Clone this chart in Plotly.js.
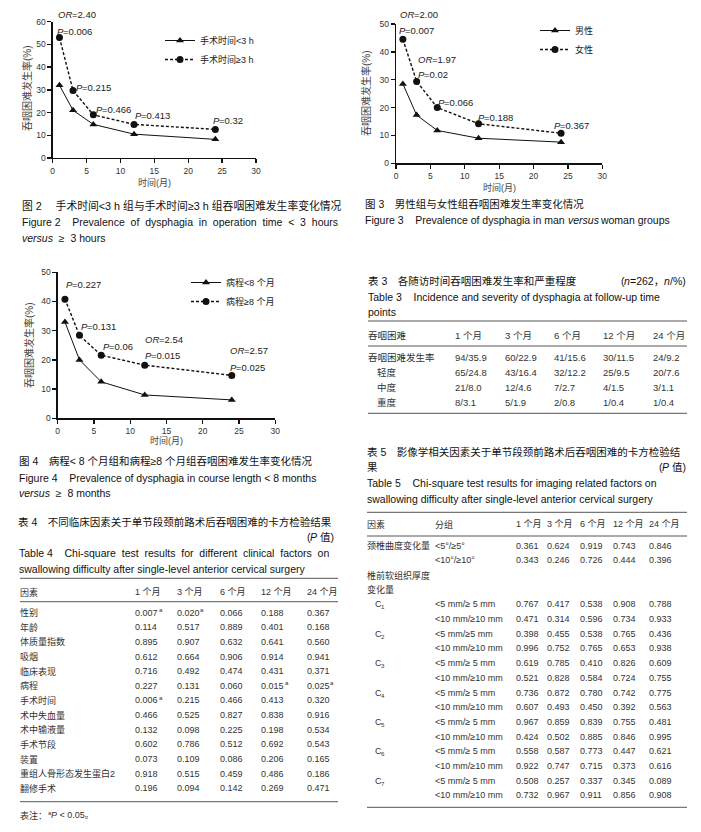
<!DOCTYPE html>
<html>
<head>
<meta charset="utf-8">
<script src="https://cdn.plot.ly/plotly-3.0.1.min.js"></script>
<style>
html,body{margin:0;padding:0;background:#fff;}
#chart{width:701px;height:832px;}
</style>
</head>
<body>
<div id="chart"></div>
<script>
// ---------------- DATA ----------------
const months = [1, 3, 6, 12, 24];
const opTimeShort = [32, 21, 14.8, 10.5, 8.2];     // 手术时间<3 h
const opTimeLong  = [53, 29.7, 19, 14.8, 12.6];    // 手术时间≥3 h
const male   = [28.5, 17.3, 11.8, 9.0, 7.6];       // 男性
const female = [44.5, 29.4, 20.0, 14.2, 10.8];    // 女性
const courseShort = [33, 20, 12.5, 8.0, 6.3];     // 病程<8 个月
const courseLong  = [40.8, 28.4, 21.6, 18.2, 14.7]; // 病程≥8 个月

const fig2Names = ['手术时间<3 h', '手术时间≥3 h'];
const fig3Names = ['男性', '女性'];
const fig4Names = ['病程<8 个月', '病程≥8 个月'];

// [italic word, value]
const fig2Labels = [['OR', '=2.40'], ['P', '=0.006'], ['P', '=0.215'], ['P', '=0.466'], ['P', '=0.413'], ['P', '=0.32']];
const fig3Labels = [['OR', '=2.00'], ['P', '=0.007'], ['OR', '=1.97'], ['P', '=0.02'], ['P', '=0.066'], ['P', '=0.188'], ['P', '=0.367']];
const fig4Labels = [['P', '=0.227'], ['P', '=0.131'], ['P', '=0.06'], ['OR', '=2.54'], ['P', '=0.015'], ['OR', '=2.57'], ['P', '=0.025']];

// Table 3
const t3Header = ['吞咽困难', '1 个月', '3 个月', '6 个月', '12 个月', '24 个月'];
const t3Rows = ['吞咽困难发生率', '轻度', '中度', '重度'];
const t3Values = [
  ['94/35.9', '60/22.9', '41/15.6', '30/11.5', '24/9.2'],
  ['65/24.8', '43/16.4', '32/12.2', '25/9.5', '20/7.6'],
  ['21/8.0', '12/4.6', '7/2.7', '4/1.5', '3/1.1'],
  ['8/3.1', '5/1.9', '2/0.8', '1/0.4', '1/0.4']
];

// Table 4
const t4Header = ['因素', '1 个月', '3 个月', '6 个月', '12 个月', '24 个月'];
const t4Factors = ['性别', '年龄', '体质量指数', '吸烟', '临床表现', '病程', '手术时间', '术中失血量', '术中输液量', '手术节段', '装置', '重组人骨形态发生蛋白2', '翻修手术'];
const t4P = [
  [0.007, 0.020, 0.066, 0.188, 0.367],
  [0.114, 0.517, 0.889, 0.401, 0.168],
  [0.895, 0.907, 0.632, 0.641, 0.560],
  [0.612, 0.664, 0.906, 0.914, 0.941],
  [0.716, 0.492, 0.474, 0.431, 0.371],
  [0.227, 0.131, 0.060, 0.015, 0.025],
  [0.006, 0.215, 0.466, 0.413, 0.320],
  [0.466, 0.525, 0.827, 0.838, 0.916],
  [0.132, 0.098, 0.225, 0.198, 0.534],
  [0.602, 0.786, 0.512, 0.692, 0.543],
  [0.073, 0.109, 0.086, 0.206, 0.165],
  [0.918, 0.515, 0.459, 0.486, 0.186],
  [0.196, 0.094, 0.142, 0.269, 0.471]
];

// Table 5
const t5Header = ['因素', '分组', '1 个月', '3 个月', '6 个月', '12 个月', '24 个月'];
const t5Factors = ['颈椎曲度变化量', '', '椎前软组织厚度', '变化量', 'C1', '', 'C2', '', 'C3', '', 'C4', '', 'C5', '', 'C6', '', 'C7', ''];
const t5Groups = ['<5°/≥5°', '<10°/≥10°', '', '',
  '<5 mm/≥ 5 mm', '<10 mm/≥10 mm', '<5 mm/≥5 mm', '<10 mm/≥10 mm',
  '<5 mm/≥ 5 mm', '<10 mm/≥10 mm', '<5 mm/≥ 5 mm', '<10 mm/≥10 mm',
  '<5 mm/≥ 5 mm', '<10 mm/≥10 mm', '<5 mm/≥ 5 mm', '<10 mm/≥10 mm',
  '<5 mm/≥ 5 mm', '<10 mm/≥10 mm'];
const t5P = [
  [0.361, 0.624, 0.919, 0.743, 0.846],
  [0.343, 0.246, 0.726, 0.444, 0.396],
  null, null,
  [0.767, 0.417, 0.538, 0.908, 0.788],
  [0.471, 0.314, 0.596, 0.734, 0.933],
  [0.398, 0.455, 0.538, 0.765, 0.436],
  [0.996, 0.752, 0.765, 0.653, 0.938],
  [0.619, 0.785, 0.410, 0.826, 0.609],
  [0.521, 0.828, 0.584, 0.724, 0.755],
  [0.736, 0.872, 0.780, 0.742, 0.775],
  [0.607, 0.493, 0.450, 0.392, 0.563],
  [0.967, 0.859, 0.839, 0.755, 0.481],
  [0.424, 0.502, 0.885, 0.846, 0.995],
  [0.558, 0.587, 0.773, 0.447, 0.621],
  [0.922, 0.747, 0.715, 0.373, 0.616],
  [0.508, 0.257, 0.337, 0.345, 0.089],
  [0.732, 0.967, 0.911, 0.856, 0.908]
];

// ---------------- LAYOUT HELPERS ----------------
const W = 701, H = 832;
const PX = x => x / W;
const PY = y => 1 - y / H;
const FONT = '"Liberation Sans", Arial, "Noto Sans CJK SC", sans-serif';
const NB = '\u00a0';
const annotations = [];
const shapes = [];
const cv = document.createElement('canvas').getContext('2d');

function measure(t, size, italic) {
  cv.font = (italic ? 'italic ' : '') + size + 'px ' + FONT;
  return cv.measureText(t).width;
}

function txt(text, x, y, opt) {
  opt = opt || {};
  annotations.push({
    text: text, xref: 'paper', yref: 'paper', x: PX(x), y: PY(y),
    xanchor: opt.anchor || 'left', yanchor: 'middle', showarrow: false,
    borderpad: 0, borderwidth: 0, textangle: opt.angle || 0,
    font: {family: FONT, size: opt.size || 9, color: opt.color || '#333',
           style: opt.italic ? 'italic' : 'normal'}
  });
}
// parts: [[text, italic, 'sup'|'sub'|undefined], ...] laid out one after another
function rich(parts, x, y, opt) {
  opt = opt || {};
  const size = opt.size || 9;
  const sizes = parts.map(p => p[2] ? size * 0.68 : size);
  const ws = parts.map((p, i) => measure(p[0], sizes[i], p[1]) + (p[2] === 'sup' ? 1 : 0));
  const total = ws.reduce((a, b) => a + b, 0);
  let cx = opt.anchor === 'right' ? x - total : x;
  parts.forEach((p, i) => {
    const dy = p[2] === 'sup' ? -size * 0.33 : (p[2] === 'sub' ? size * 0.28 : 0);
    txt(p[0], cx + (p[2] === 'sup' ? 1 : 0), y + dy, {size: sizes[i], color: opt.color, italic: p[1]});
    cx += ws[i];
  });
}
function hline(x0, x1, y, w) {
  shapes.push({type: 'line', xref: 'paper', yref: 'paper', x0: PX(x0), x1: PX(x1), y0: PY(y), y1: PY(y),
    line: {color: '#555', width: w || 1}});
}

// ---------------- CHARTS ----------------
const charts = [
  {ax: '', names: fig2Names, a: opTimeShort, b: opTimeLong, legend: 'legend',
   box: [52.7, 256, 158, 21.7], yr: 60,
   labels: fig2Labels, labelPos: [[58, 14], [57, 31], [76, 87], [96, 109], [135, 115], [213, 121]],
   ytitle: [27, 88], xtitle: [154, 182]},
  {ax: '2', names: fig3Names, a: male, b: female, legend: 'legend2',
   box: [396, 602.3, 163.3, 24], yr: 50,
   labels: fig3Labels, labelPos: [[400, 14.7], [399, 30.7], [418, 59], [418, 74.7], [438, 102], [478, 117], [554, 125.7]],
   ytitle: [366, 93], xtitle: [499, 188]},
  {ax: '3', names: fig4Names, a: courseShort, b: courseLong, legend: 'legend3',
   box: [57.7, 275.3, 418.3, 272.3], yr: 50,
   labels: fig4Labels, labelPos: [[66, 285], [80.7, 326.7], [103, 346.7], [145, 339], [145, 355], [230, 350.7], [230, 367.3]],
   ytitle: [29, 345], xtitle: [166, 440]}
];

const traces = [];
const layout = {
  width: W, height: H, margin: {l: 0, r: 0, t: 0, b: 0},
  paper_bgcolor: '#fff', plot_bgcolor: 'rgba(0,0,0,0)',
  font: {family: FONT, size: 9, color: '#333'},
  annotations: annotations, shapes: shapes
};

charts.forEach(c => {
  const xa = 'x' + c.ax, ya = 'y' + c.ax;
  traces.push({
    x: months, y: c.a, name: c.names[0], type: 'scatter', mode: 'lines+markers',
    xaxis: xa, yaxis: ya, legend: c.legend, cliponaxis: false,
    line: {color: '#111', width: 1},
    marker: {symbol: 'triangle-up', size: 7, color: '#111'}
  });
  traces.push({
    x: months, y: c.b, name: c.names[1], type: 'scatter', mode: 'lines+markers',
    xaxis: xa, yaxis: ya, legend: c.legend, cliponaxis: false,
    line: {color: '#111', width: 1.4, dash: '3px,2px'},
    marker: {symbol: 'circle', size: 7, color: '#111'}
  });
  const axCommon = {
    showline: true, linecolor: '#111', linewidth: 1.3, ticks: 'outside', ticklen: 4,
    tickwidth: 1.3, tickcolor: '#111', showgrid: false, zeroline: false, fixedrange: true,
    tickfont: {family: FONT, size: 8.5, color: '#333'}
  };
  layout['xaxis' + c.ax] = Object.assign({}, axCommon, {
    domain: [PX(c.box[0]), PX(c.box[1])], range: [0, 30], dtick: 5, tick0: 0,
    anchor: ya
  });
  layout['yaxis' + c.ax] = Object.assign({}, axCommon, {
    domain: [PY(c.box[2]), PY(c.box[3])], range: [0, c.yr], dtick: 10, tick0: 0,
    anchor: xa
  });
  c.labels.forEach((t, i) => rich([[t[0], true], [t[1], false]], c.labelPos[i][0], c.labelPos[i][1], {size: 9.5, color: '#222'}));
  txt('吞咽困难发生率(%)', c.ytitle[0], c.ytitle[1], {anchor: 'center', angle: -90, size: 10, color: '#444'});
  txt('时间(月)', c.xtitle[0], c.xtitle[1], {anchor: 'center', size: 9, color: '#444'});
});

const legendCommon = {xanchor: 'left', yanchor: 'top', bgcolor: 'rgba(0,0,0,0)',
  font: {family: FONT, size: 9, color: '#222'}, tracegroupgap: 0};
layout.legend = Object.assign({}, legendCommon, {x: PX(160), y: PY(26)});
layout.legend2 = Object.assign({}, legendCommon, {x: PX(535), y: PY(16)});
layout.legend3 = Object.assign({}, legendCommon, {x: PX(186), y: PY(268)});

// ---------------- CAPTIONS ----------------
const CAP = {size: 10.5, color: '#111'};
const capR = Object.assign({anchor: 'right'}, CAP);
txt('图 2\u3000' + NB + '手术时间<3 h 组与手术时间≥3 h 组吞咽困难发生率变化情况', 22, 205, {size: 10.8, color: '#111'});
txt('Figure 2' + NB + NB + NB + NB + 'Prevalence' + NB + NB + 'of' + NB + NB + 'dysphagia' + NB + NB + 'in' + NB + NB + 'operation' + NB + NB + 'time' + NB + NB + '<' + NB + NB + '3' + NB + NB + 'hours', 22, 222.5, CAP);
rich([['versus', true], [NB + NB + '≥' + NB + NB + '3 hours', false]], 22, 237.5, CAP);
txt('图 3\u3000男性组与女性组吞咽困难发生率变化情况', 365, 204, CAP);
rich([['Figure 3' + NB + NB + NB + NB + 'Prevalence of dysphagia in man' + NB, false], ['versus', true], [NB + 'woman groups', false]], 365, 220, CAP);
txt('图 4\u3000病程< 8 个月组和病程≥8 个月组吞咽困难发生率变化情况', 19, 460.7, CAP);
txt('Figure 4' + NB + NB + NB + NB + 'Prevalence of dysphagia in course length < 8 months', 19, 477.7, CAP);
rich([['versus', true], [NB + NB + '≥' + NB + NB + '8 months', false]], 19, 492.7, CAP);

// ---------------- TABLE 3 ----------------
txt('表 3\u3000各随访时间吞咽困难发生率和严重程度', 368, 280.7, CAP);
rich([['(', false], ['n', true], ['=262，', false], ['n', true], ['/%)', false]], 686, 280.7, capR);
txt('Table 3' + NB + NB + NB + NB + 'Incidence and severity of dysphagia at follow-up time', 368, 296.7, CAP);
txt('points', 368, 311.7, CAP);
hline(368, 687, 321);
hline(368, 687, 346);
hline(368, 687, 413.3);
const t3X = [368, 455, 505, 554, 603, 652.7];
t3Header.forEach((h, j) => txt(h, t3X[j], 335.3, {size: 9.5}));
t3Rows.forEach((r, i) => {
  const y = 357.7 + i * 14.8;
  txt(r, i === 0 ? t3X[0] : 377, y, {size: 9.5});
  t3Values[i].forEach((v, j) => txt(v, t3X[j + 1], y, {size: 9.5}));
});

// ---------------- TABLE 4 ----------------
txt('表 4\u3000不同临床因素关于单节段颈前路术后吞咽困难的卡方检验结果', 18, 521.7, CAP);
rich([['(', false], ['P', true], [NB + '值)', false]], 334, 536.7, capR);
txt('Table 4' + NB + NB + NB + NB + 'Chi-square' + NB + NB + 'test' + NB + NB + 'results' + NB + NB + 'for' + NB + NB + 'different' + NB + NB + 'clinical' + NB + NB + 'factors' + NB + NB + 'on', 19, 553.3, CAP);
txt('swallowing difficulty after single-level anterior cervical surgery', 19, 569, CAP);
hline(20, 338, 578.3);
hline(20, 338, 601.7);
hline(20, 338, 801.7);
const t4X = [20, 135, 176.7, 220, 261, 306.7];
t4Header.forEach((h, j) => txt(h, t4X[j], 592.3));
t4Factors.forEach((f, i) => {
  const y = 612.7 + i * 14.63;
  txt(f, t4X[0], y);
  t4P[i].forEach((v, j) => {
    const parts = [[v.toFixed(3), false]];
    if (v < 0.05) parts.push(['a', false, 'sup']);
    rich(parts, t4X[j + 1], y, {size: 9});
  });
});
rich([['表注：', false], ['a', false, 'sup'], ['P', true], [NB + '< 0.05。', false]], 20, 815, {size: 9});

// ---------------- TABLE 5 ----------------
txt('表 5\u3000影像学相关因素关于单节段颈前路术后吞咽困难的卡方检验结', 367, 452.3, CAP);
txt('果', 367, 466.7, CAP);
rich([['(', false], ['P', true], [NB + '值)', false]], 686, 466.7, capR);
txt('Table 5' + NB + NB + NB + NB + 'Chi-square test results for imaging related factors on', 367, 483.3, CAP);
txt('swallowing difficulty after single-level anterior cervical surgery', 367, 499, CAP);
hline(367, 687, 512.3);
hline(367, 687, 536);
hline(367, 687, 807.3);
const t5X = [367, 435, 515.7, 546.7, 580, 613.3, 649];
t5Header.forEach((h, j) => txt(h, t5X[j], 524));
t5Factors.forEach((f, i) => {
  const y = 545.7 + i * 14.68;
  if (/^C\d$/.test(f)) rich([['C', false], [f.slice(1), false, 'sub']], 375, y, {size: 9});
  else if (f) txt(f, t5X[0], y);
  if (t5Groups[i]) txt(t5Groups[i], t5X[1], y);
  if (t5P[i]) t5P[i].forEach((v, j) => txt(v.toFixed(3), t5X[j + 2], y));
});

Plotly.newPlot('chart', traces, layout, {staticPlot: true, displayModeBar: false});
</script>
</body>
</html>
